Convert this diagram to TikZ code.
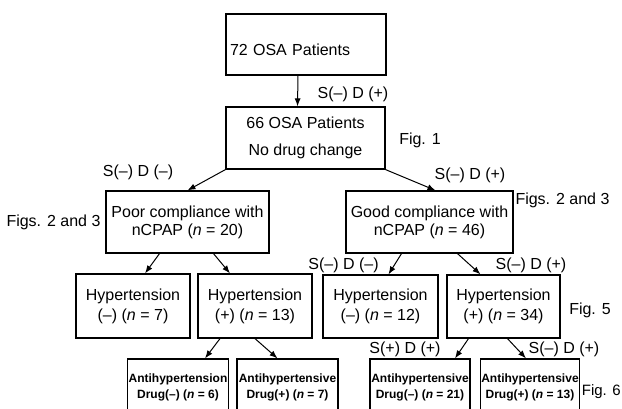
\documentclass[tikz,border=0pt]{standalone}
\usepackage{fontspec}
\setmainfont{Liberation Sans}
\usetikzlibrary{arrows.meta}

\begin{document}
\begin{tikzpicture}[x=1pt, y=-1pt,
  box/.style={draw, line width=1.2pt, align=center, inner sep=2pt, font=\fontsize{16}{18}\selectfont},
  smallbox/.style={draw, line width=1.2pt, align=center, inner sep=1pt, minimum height=56, font=\fontsize{12}{16}\selectfont\bfseries},
  arr/.style={-{Latex[length=8pt,width=6pt]}, line width=1pt},
  lbl/.style={inner sep=0pt, font=\fontsize{16}{18}\selectfont}]
\useasboundingbox (0,0) rectangle (622,408);
\clip (0,0) rectangle (622,408);

% patient flow
\node[box, minimum width=160, minimum height=61, text width=152, align=left, text height=24pt, text depth=3pt] (pts72) at (306,44.5) {72 OSA Patients};
\node[box, minimum width=159, minimum height=62] (pts66) at (305.5,138) {66 OSA Patients\\[9pt]No drug change};
\node[box, minimum width=163, minimum height=62] (poor) at (187.5,222) {Poor compliance with\\nCPAP (\textit{n} = 20)};
\node[box, minimum width=167, minimum height=62] (good) at (429.5,222) {Good compliance with\\nCPAP (\textit{n} = 46)};

\node[box, minimum width=114, minimum height=64, font=\fontsize{16}{20}\selectfont] (hyp7) at (133,306) {Hypertension\\(--) (\textit{n} = 7)};
\node[box, minimum width=114, minimum height=64, font=\fontsize{16}{20}\selectfont] (hyp13) at (255,306) {Hypertension\\(+) (\textit{n} = 13)};
\node[box, minimum width=115, minimum height=63, font=\fontsize{16}{20}\selectfont] (hyp12) at (380.5,306.5) {Hypertension\\(--) (\textit{n} = 12)};
\node[box, minimum width=113, minimum height=63, font=\fontsize{16}{20}\selectfont] (hyp34) at (503.5,306.5) {Hypertension\\(+) (\textit{n} = 34)};

\node[smallbox, minimum width=98] (ah6) at (178,387) {Antihypertension\\Drug(--) (\textit{n} = 6)};
\node[smallbox, minimum width=101] (ah7) at (287.5,387) {Antihypertensive\\Drug(+) (\textit{n} = 7)};
\node[smallbox, minimum width=100] (ah21) at (420,387) {Antihypertensive\\Drug(--) (\textit{n} = 21)};
\node[smallbox, minimum width=97] (ah13) at (530,387) {Antihypertensive\\Drug(+) (\textit{n} = 13)};

\draw[arr] ([xshift=-8]pts72.south) -- ([xshift=-8]pts66.north);
\draw[arr] (pts66.south west) -- (poor.north);
\draw[arr] (pts66.south east) -- ([xshift=6]good.north);
\draw[arr] ([xshift=-28]poor.south) -- ([xshift=12]hyp7.north);
\draw[arr] ([xshift=26]poor.south) -- ([xshift=-25]hyp13.north);
\draw[arr] ([xshift=-35]hyp13.south) -- ([xshift=27]ah6.north);
\draw[arr] (hyp13.south) -- ([xshift=-10]ah7.north);
\draw[arr] ([xshift=-28]good.south) -- ([xshift=8]hyp12.north);
\draw[arr] ([xshift=28]good.south) -- ([xshift=-23]hyp34.north);
\draw[arr] ([xshift=-35]hyp34.south) -- ([xshift=35]ah21.north);
\draw[arr] ([xshift=4]hyp34.south) -- ([xshift=-4]ah13.north);

% labels
\node[lbl] (sd1) at (353,94) {S(--) D (+)};
\node[lbl] (sd2) at (138,172) {S(--) D (--)};
\node[lbl] (sd3) at (470,175) {S(--) D (+)};
\node[lbl] (sd4) at (343.5,265) {S(--) D (--)};
\node[lbl] (sd5) at (531,265) {S(--) D (+)};
\node[lbl] (sd6) at (405,349) {S(+) D (+)};
\node[lbl] (sd7) at (564,349) {S(--) D (+)};

\node[lbl] (fig1) at (420,140) {Fig. 1};
\node[lbl] (figl) at (53.5,222) {Figs. 2 and 3};
\node[lbl] (figr) at (562.5,200) {Figs. 2 and 3};
\node[lbl] (fig5) at (590,310) {Fig. 5};
\node[lbl, anchor=east, font=\fontsize{15}{18}\selectfont] (fig6) at (621,392) {Fig. 6};
\end{tikzpicture}
\end{document}
